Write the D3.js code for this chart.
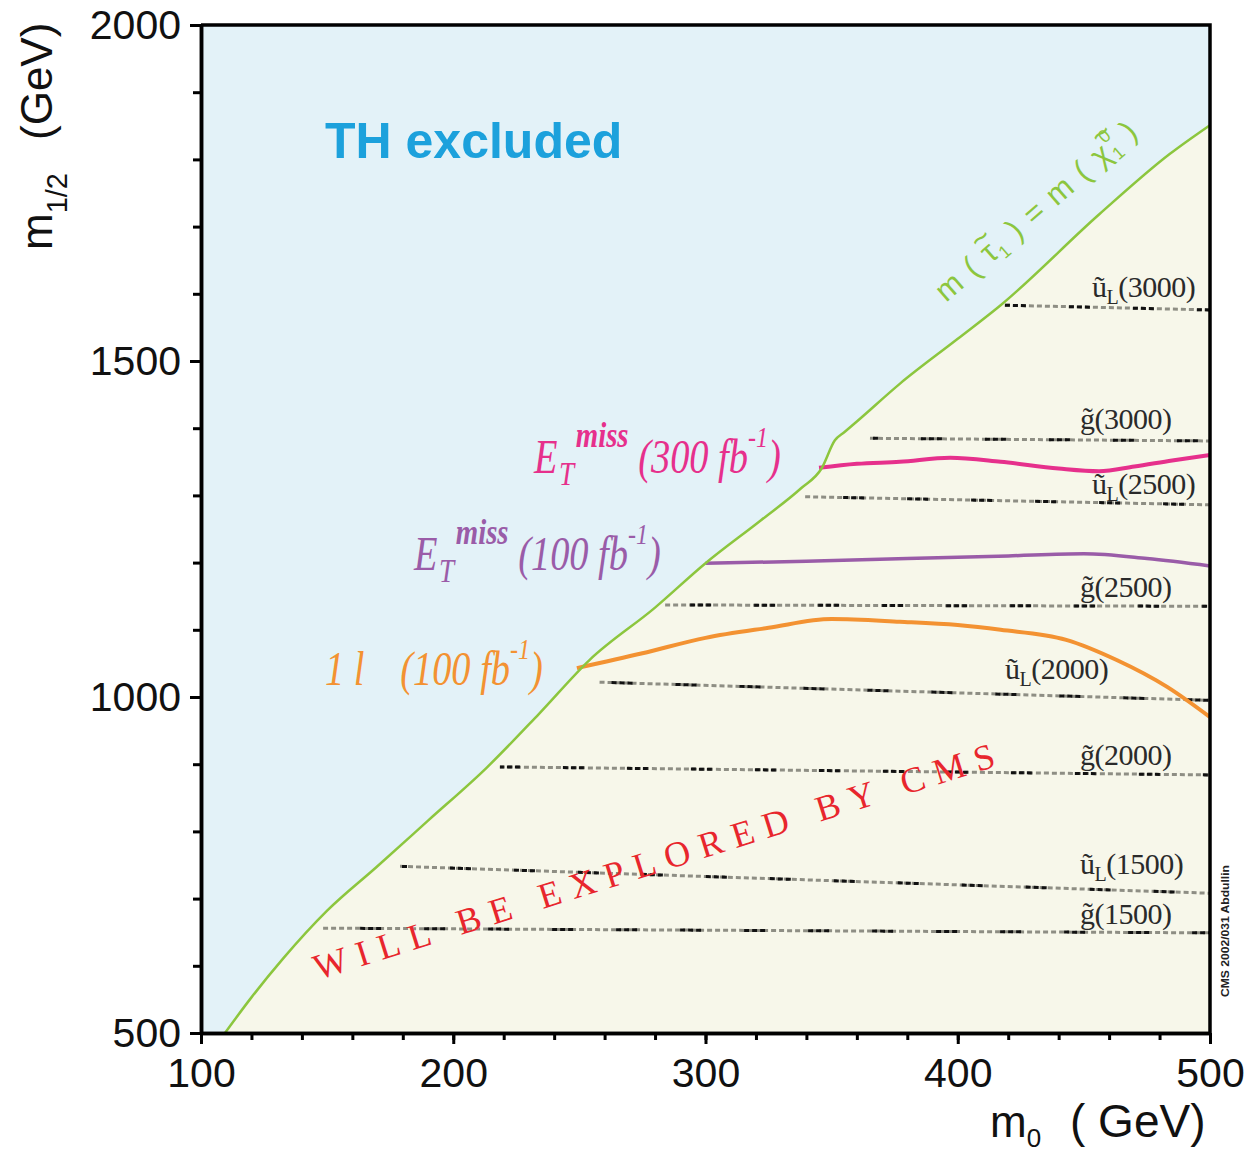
<!DOCTYPE html>
<html>
<head>
<meta charset="utf-8">
<script src="https://cdn.jsdelivr.net/npm/d3@7"></script>
<style>
  body { margin: 0; background: #fff; }
  svg { display: block; }
</style>
</head>
<body>
<div id="chart"></div>
<script>
// boundary m(stau1) = m(chi1^0)
var boundaryM0  = [109.5, 120, 132.6, 150, 169.6, 190, 213.3, 234, 254, 280, 300, 322, 338, 346, 351.3, 355, 360, 377, 400, 417, 456, 484, 500];
var boundaryM12 = [500, 553, 611, 682, 747, 816, 895, 975, 1055, 1133, 1199, 1263, 1311, 1340, 1382, 1394, 1410, 1466, 1533, 1583, 1718, 1808, 1851];

// reach curves
var met300M0  = [345, 360, 377, 397, 417, 440, 456, 470, 485, 500];
var met300M12 = [1341, 1347, 1350, 1356, 1350, 1340, 1336, 1343, 1352, 1360];
var met100M0  = [300, 340, 380, 420, 450, 475, 500];
var met100M12 = [1199, 1202, 1206, 1210, 1213, 1206, 1195];
var lep100M0  = [249, 275, 300, 325, 350, 377, 400, 417, 443, 463, 483, 500];
var lep100M12 = [1043, 1065, 1088, 1103, 1116, 1112, 1107, 1100, 1085, 1055, 1015, 970];

// squark / gluino iso-mass lines
var refType     = ["u", "g", "u", "g", "u", "g", "u", "g"];
var refMass     = [3000, 3000, 2500, 2500, 2000, 2000, 1500, 1500];
var refStartM0  = [418.7, 365.2, 339.5, 284, 258, 218.5, 178.9, 148.4];
var refStartM12 = [1583, 1385, 1298, 1137, 1022, 896, 748, 656];
var refEndM12   = [1576, 1381, 1286, 1135, 995, 884, 708, 649];

// axis ticks
var xTicks = [100, 200, 300, 400, 500];
var yTicks = [500, 1000, 1500, 2000];

var width = 1250, height = 1155;
var sans = "'Liberation Sans', Arial, sans-serif";
var serif = "'Liberation Serif', 'Times New Roman', serif";

var svg = d3.select("#chart").append("svg")
  .attr("width", width)
  .attr("height", height);

var x = d3.scaleLinear().domain([100, 500]).range([201, 1210]);
var y = d3.scaleLinear().domain([500, 2000]).range([1033, 25]);

function pairs(a, b) { return a.map(function(d, i) { return [d, b[i]]; }); }

var line = d3.line()
  .x(function(d) { return x(d[0]); })
  .y(function(d) { return y(d[1]); })
  .curve(d3.curveMonotoneX);

// regions
svg.append("rect")
  .attr("x", x(100)).attr("y", y(2000))
  .attr("width", x(500) - x(100)).attr("height", y(500) - y(2000))
  .attr("fill", "#f7f7ea");

var boundary = pairs(boundaryM0, boundaryM12);
svg.append("path")
  .attr("d", line(boundary) + "L" + x(500) + "," + y(2000) + "L" + x(100) + "," + y(2000) + "L" + x(100) + "," + y(500) + "Z")
  .attr("fill", "#e3f2f8");

// iso-mass lines
var refs = refType.map(function(t, i) {
  return { type: t, mass: refMass[i], x0: refStartM0[i], y0: refStartM12[i], y1: refEndM12[i] };
});
var refLabelX = [1092, 1080, 1092, 1080, 1005, 1080, 1080, 1080];
var refLabelLift = [10, 11, 8, 9, 15, 8, 15, 8];

var refG = svg.append("g");
refs.forEach(function(r, i) {
  var d = "M" + x(r.x0) + "," + y(r.y0) + "L" + x(500) + "," + y(r.y1);
  refG.append("path").attr("d", d)
    .attr("stroke", "#8e8e84").attr("stroke-width", 3)
    .attr("stroke-dasharray", "5,3").attr("fill", "none");
  refG.append("path").attr("d", d)
    .attr("stroke", "#111").attr("stroke-width", 3)
    .attr("stroke-dasharray", "5,3,5,3,5,43").attr("stroke-dashoffset", i * 13)
    .attr("fill", "none");

  var lx = refLabelX[i];
  var t = (x.invert(lx) - r.x0) / (500 - r.x0);
  var ly = y(r.y0 + (r.y1 - r.y0) * t) - refLabelLift[i];
  var txt = refG.append("text")
    .attr("x", lx).attr("y", ly)
    .attr("font-family", serif).attr("font-size", 30)
    .attr("letter-spacing", -0.5)
    .attr("fill", "#2a2a2a");
  if (r.type === "u") {
    txt.append("tspan").text("\u0169");
    txt.append("tspan").attr("font-size", 20).attr("dy", 7).text("L");
    txt.append("tspan").attr("dy", -7).text("(" + r.mass + ")");
  } else {
    txt.append("tspan").text("g\u0303");
    txt.append("tspan").text("(" + r.mass + ")");
  }
});

// reach curves
svg.append("path").datum(pairs(lep100M0, lep100M12))
  .attr("d", line).attr("fill", "none")
  .attr("stroke", "#f39232").attr("stroke-width", 4);
svg.append("path").datum(pairs(met100M0, met100M12))
  .attr("d", line).attr("fill", "none")
  .attr("stroke", "#9a5ca8").attr("stroke-width", 3.5);
svg.append("path").datum(pairs(met300M0, met300M12))
  .attr("d", line).attr("fill", "none")
  .attr("stroke", "#e6308c").attr("stroke-width", 4);

// boundary line
svg.append("path").datum(boundary)
  .attr("d", line).attr("fill", "none")
  .attr("stroke", "#8cc63e").attr("stroke-width", 2.5)
  .attr("stroke-linejoin", "round");

// texts
svg.append("text")
  .attr("x", 325).attr("y", 158)
  .attr("font-family", sans).attr("font-weight", "bold").attr("font-size", 50)
  .attr("fill", "#1ca1dc")
  .text("TH excluded");

function etLabel(x0, y0, color, lumi) {
  var g = svg.append("g").attr("transform", "translate(" + x0 + "," + y0 + ") scale(0.8,1)");
  var t = g.append("text").attr("font-family", serif).attr("font-style", "italic")
    .attr("font-size", 48).attr("fill", color);
  t.append("tspan").text("E");
  t.append("tspan").attr("font-size", 34).attr("dx", 2).attr("dy", 12).text("T");
  t.append("tspan").attr("font-size", 36).attr("font-weight", "bold").attr("dx", 2).attr("dy", -38).text("miss");
  t.append("tspan").attr("dy", 26).text(" (" + lumi + " fb");
  t.append("tspan").attr("font-size", 30).attr("dy", -26).text("-1");
  t.append("tspan").attr("dy", 26).text(")");
}
etLabel(534, 473, "#e6308c", 300);
etLabel(414, 570, "#9a5ca8", 100);

var lg = svg.append("g").attr("transform", "translate(325,685) scale(0.8,1)");
var lt = lg.append("text").attr("font-family", serif).attr("font-style", "italic")
  .attr("font-size", 48).attr("fill", "#f39232");
lt.append("tspan").text("1 l");
lt.append("tspan").attr("x", 94).text("(100 fb");
lt.append("tspan").attr("font-size", 30).attr("dy", -26).text("-1");
lt.append("tspan").attr("dy", 26).text(")");

// boundary label
var bt = svg.append("text")
  .attr("transform", "translate(946,303) rotate(-41)")
  .attr("font-family", sans).attr("font-size", 31).attr("fill", "#8cc63e")
  .attr("letter-spacing", 1.5);
bt.append("tspan").text("m ( \u03c4");
bt.append("tspan").attr("font-size", 18).attr("dy", 6).text("1");
bt.append("tspan").attr("dy", -6).text(" ) = m ( \u03c7");
bt.append("tspan").attr("font-size", 18).attr("dy", 6).text("1");
bt.append("tspan").attr("font-size", 18).attr("dx", -11).attr("dy", -22).text("0");
bt.append("tspan").attr("dy", 16).text(" )");
// tildes over tau and chi
var tl = svg.append("text")
  .attr("transform", "translate(946,303) rotate(-41)")
  .attr("font-family", sans).attr("font-size", 31).attr("fill", "#8cc63e")
  .attr("letter-spacing", 1.5);
tl.append("tspan").attr("fill", "none").text("m ( ");
tl.append("tspan").attr("dy", -16).text("~");
tl.append("tspan").attr("fill", "none").attr("dy", 16).text("1 ) = m ( ");
tl.append("tspan").attr("dy", -16).text("~");

svg.append("text")
  .attr("transform", "translate(318,980) rotate(-17.5)")
  .attr("font-family", serif).attr("font-size", 36).attr("fill", "#e8262d")
  .attr("textLength", 712).attr("lengthAdjust", "spacing")
  .text("WILL BE EXPLORED BY CMS");

// axes
var xMinor = d3.axisBottom(x).tickValues(d3.range(100, 501, 20)).tickSize(7).tickSizeOuter(0).tickFormat("");
var xAxis = d3.axisBottom(x).tickValues(xTicks).tickSize(11).tickSizeOuter(0).tickPadding(14).tickFormat(d3.format("d"));
var yMinor = d3.axisLeft(y).tickValues(d3.range(500, 2001, 100)).tickSize(8).tickSizeOuter(0).tickFormat("");
var yAxis = d3.axisLeft(y).tickValues(yTicks).tickSize(11).tickSizeOuter(0).tickPadding(9).tickFormat(d3.format("d"));

[xMinor, xAxis].forEach(function(a) {
  svg.append("g").attr("transform", "translate(0," + y(500) + ")").call(a)
    .attr("font-family", sans).attr("font-size", 41);
});
[yMinor, yAxis].forEach(function(a) {
  svg.append("g").attr("transform", "translate(" + x(100) + ",0)").call(a)
    .attr("font-family", sans).attr("font-size", 41);
});
svg.selectAll(".domain").attr("stroke", "#000").attr("stroke-width", 3.5);
svg.selectAll(".tick line").attr("stroke", "#000").attr("stroke-width", 3);
svg.selectAll(".tick text").attr("fill", "#111");

// top and right frame
svg.append("path")
  .attr("d", "M" + x(100) + "," + y(2000) + "L" + x(500) + "," + y(2000) + "L" + x(500) + "," + y(500))
  .attr("fill", "none").attr("stroke", "#000").attr("stroke-width", 3.5);

// axis titles
var yt = svg.append("text")
  .attr("transform", "translate(52,250) rotate(-90)")
  .attr("font-family", sans).attr("font-size", 44).attr("fill", "#111");
yt.append("tspan").text("m");
yt.append("tspan").attr("font-size", 29).attr("dy", 15).text("1/2");
yt.append("tspan").attr("x", 110).attr("dy", -15).text("(GeV)");

var xt = svg.append("text")
  .attr("transform", "translate(990,1137)")
  .attr("font-family", sans).attr("font-size", 44).attr("fill", "#111");
xt.append("tspan").text("m");
xt.append("tspan").attr("font-size", 26).attr("dy", 10).text("0");
xt.append("tspan").attr("x", 80).attr("dy", -10).attr("font-size", 46).text("( GeV)");

// tiny note at the right edge
svg.append("text")
  .attr("transform", "translate(1229,997) rotate(-90)")
  .attr("font-family", sans).attr("font-size", 11).attr("font-weight", "bold").attr("fill", "#222")
  .attr("textLength", 132).attr("lengthAdjust", "spacingAndGlyphs")
  .text("CMS 2002/031 Abdullin");
</script>
</body>
</html>
